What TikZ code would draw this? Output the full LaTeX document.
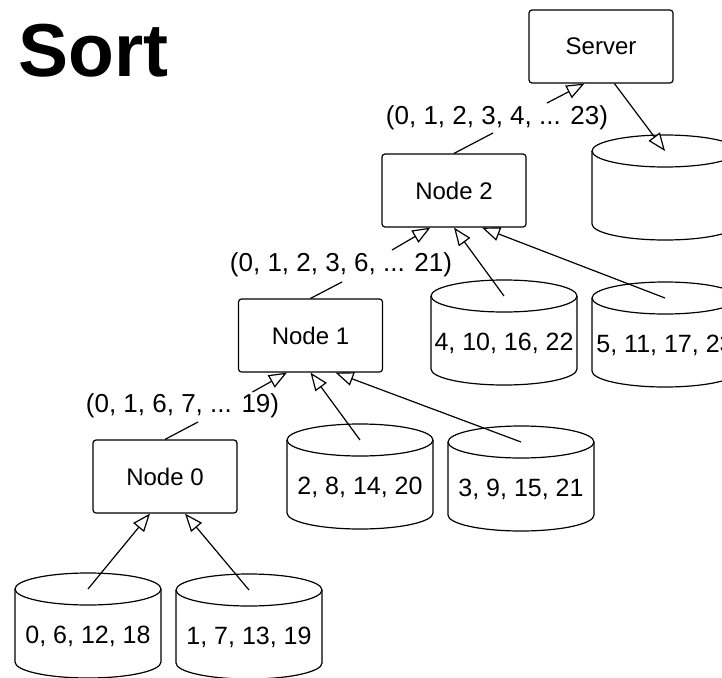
\documentclass[tikz,border=0pt]{standalone}
\usepackage{fontspec}
\setmainfont{Liberation Sans}
\usetikzlibrary{arrows.meta}

% storage cylinder: #1 name, #2 left x, #3 top y (page, downward), #4 label
\newcommand{\storecyl}[4]{%
  \pgfmathsetmacro{\cl}{#2}\pgfmathsetmacro{\ct}{#3}%
  \pgfmathsetmacro{\cr}{\cl+146}\pgfmathsetmacro{\cm}{\cl+73}%
  \pgfmathsetmacro{\cy}{-(\ct+16)}\pgfmathsetmacro{\cb}{-(\ct+105-16)}%
  \draw[cyl] (\cl,\cy) -- (\cl,\cb)
     arc[start angle=180,end angle=360,x radius=73,y radius=16] -- (\cr,\cy);
  \draw[cyl] (\cm,\cy) ellipse[x radius=73,y radius=16];
  \coordinate (#1-top) at (\cm,\cy);
  \node[cyltext] (#1) at (\cm,{-(\ct+63)}) {#4};
}

\begin{document}
\begin{tikzpicture}[x=1pt,y=1pt,
  box/.style={draw,line width=1.2pt,rounded corners=3pt,fill=white,
              minimum width=144pt,minimum height=73pt,inner sep=0pt,
              font=\fontsize{24}{28}\selectfont},
  cyl/.style={draw,line width=1.2pt,fill=white},
  cyltext/.style={inner sep=0pt,font=\fontsize{25}{29}\selectfont},
  lab/.style={inner sep=0pt,font=\fontsize{26}{30}\selectfont},
  flow/.style={line width=1.2pt,-{Triangle[open,length=18pt,width=14pt,fill=white]}},
  link/.style={line width=1.2pt}]
\useasboundingbox (0,0) rectangle (722,-677);

% title
\node[anchor=base west,inner sep=0pt,font=\fontsize{75}{80}\selectfont\bfseries]
  (title) at (18,-77) {Sort};

% processing nodes
\node[box] (srv) at (601,-46.5) {Server};
\node[box] (n2) at (454,-190.5) {Node 2};
\node[box] (n1) at (310.5,-335.5) {Node 1};
\node[box] (n0) at (165,-476.5) {Node 0};

% partial results
\node[lab] (l2) at (497,-118) {(0, 1, 2, 3, 4, ... 23)};
\node[lab] (l1) at (341,-265) {(0, 1, 2, 3, 6, ... 21)};
\node[lab] (l0) at (182.5,-406) {(0, 1, 6, 7, ... 19)};

% storage
\storecyl{cs}{592}{135}{}
\storecyl{c4}{431}{280}{4, 10, 16, 22}
\storecyl{c5}{592}{282}{5, 11, 17, 23}
\storecyl{c2}{287}{424}{2, 8, 14, 20}
\storecyl{c3}{448}{426}{3, 9, 15, 21}
\storecyl{c0}{15}{573}{0, 6, 12, 18}
\storecyl{c1}{176}{574}{1, 7, 13, 19}

% server level
\draw[flow] ([shift={(50,15)}]l2.center) -- ([xshift=56]srv.south west);
\draw[flow] ([xshift=86]srv.south west) -- (cs-top);
\draw[link] (n2.north) -- ([shift={(-4,-15)}]l2.center);

% node 2 level
\draw[flow] ([shift={(51,15)}]l1.center) -- ([xshift=49]n2.south west);
\draw[flow] (c4-top) -- (n2.south);
\draw[flow] (c5-top) -- ([xshift=28]n2.south);
\draw[link] (n1.north) -- ([shift={(1,-17)}]l1.center);

% node 1 level
\draw[flow] ([shift={(70,14)}]l0.center) -- ([xshift=49]n1.south west);
\draw[flow] (c2-top) -- (n1.south);
\draw[flow] (c3-top) -- ([xshift=25]n1.south);
\draw[link] (n0.north) -- ([shift={(15.5,-16)}]l0.center);

% node 0 level
\draw[flow] (c0-top) -- ([xshift=-15]n0.south);
\draw[flow] (c1-top) -- ([xshift=20]n0.south);
\end{tikzpicture}
\end{document}
